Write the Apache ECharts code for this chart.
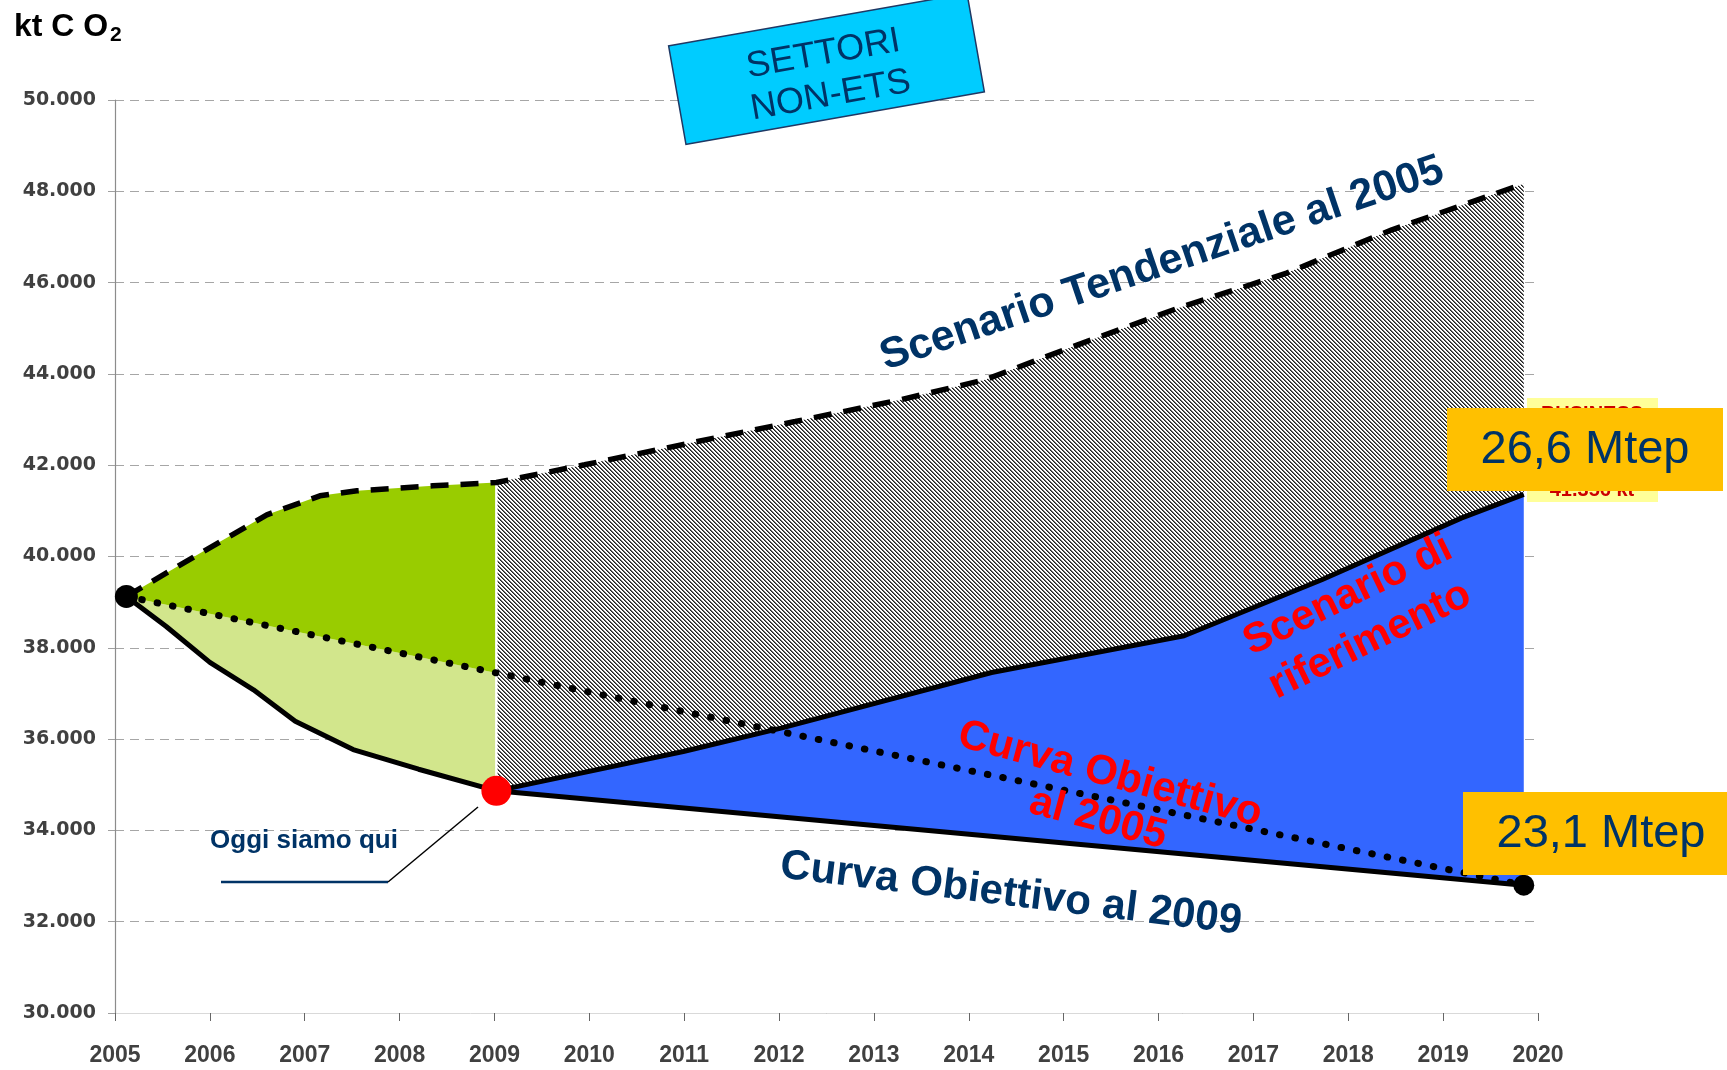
<!DOCTYPE html>
<html><head><meta charset="utf-8">
<script src="https://cdn.jsdelivr.net/npm/echarts@6/dist/echarts.min.js"></script>
<style>html,body{margin:0;padding:0;background:#fff}#c{width:1727px;height:1070px}</style>
</head><body><div id="c"></div>
<script>
// ---- data (kt CO2) ----
const anniTendenziale = [2005.12, 2005.9, 2006.6, 2007.16, 2007.55, 2008.35, 2009.02, 2009.95, 2011.06, 2012.17, 2013.28, 2014.17, 2015.1, 2016.22, 2017.35, 2018.46, 2019.85];
const tendenziale     = [39124, 40074, 40913, 41329, 41439, 41548, 41621, 42009, 42484, 42957, 43433, 43871, 44600, 45450, 46208, 47157, 48164];
const anniBasso = [2005.12, 2005.54, 2006.0, 2006.46, 2006.9, 2007.51, 2008.2, 2009.02];
const basso     = [39124, 38467, 37680, 37080, 36390, 35770, 35340, 34867];
const anniRiferimento = [2009.02, 2010.99, 2012.02, 2014.24, 2016.27, 2017.72, 2019.19, 2019.85];
const riferimento     = [34867, 35728, 36240, 37459, 38263, 39490, 40841, 41360];
const anniObiettivo2005 = [2005.12, 2019.85];
const obiettivo2005     = [39124, 32800];
const anniObiettivo2009 = [2009.02, 2019.85];
const obiettivo2009     = [34867, 32800];
const puntoInizio = [2005.12, 39124];
const puntoOggi   = [2009.02, 34867];
const puntoFine   = [2019.85, 32800];
const anniAsse = [2005, 2020];
const valoriAsse = [30000, 50000];

const zip = (xs, ys) => xs.map((x, i) => [x, ys[i]]);
const lerpAt = (xs, ys, x) => ys[0] + (x - xs[0]) / (xs[1] - xs[0]) * (ys[1] - ys[0]);
const xOggi = puntoOggi[0];
const dotAtOggi = lerpAt(anniObiettivo2005, obiettivo2005, xOggi);

function makeHatch() {
  const n = 4, c = document.createElement('canvas');
  c.width = n; c.height = n;
  const ctx = c.getContext('2d');
  const img = ctx.createImageData(n, n);
  for (let y = 0; y < n; y++) for (let x = 0; x < n; x++) {
    const k = (((x - y) % n) + n) % n;
    const v = k === 0 ? 30 : (k === 1 ? 110 : 255);
    const o = (y * n + x) * 4;
    img.data[o] = v; img.data[o + 1] = v; img.data[o + 2] = v; img.data[o + 3] = 255;
  }
  ctx.putImageData(img, 0, 0);
  return c;
}
const hatch = { image: makeHatch(), repeat: 'repeat' };

function areaSeries(top, bottom, fill, z) {
  return {
    type: 'custom', z: z, silent: true, clip: false,
    data: [top[0]],
    renderItem: function (params, api) {
      const pts = [];
      top.forEach(p => pts.push(api.coord(p)));
      for (let i = bottom.length - 1; i >= 0; i--) pts.push(api.coord(bottom[i]));
      return { type: 'polygon', shape: { points: pts }, style: { fill: fill } };
    }
  };
}

const tendPts = zip(anniTendenziale, tendenziale);
const tendLeft = tendPts.filter(p => p[0] <= xOggi);
const tendRight = tendPts.filter(p => p[0] >= xOggi);
const dottedLeft = [puntoInizio, [xOggi, dotAtOggi]];
const bordoOggi = [puntoOggi, tendLeft[tendLeft.length - 1]];

function lineSeries(data, style, z) {
  return { type: 'line', data: data, symbol: 'none', silent: true, z: z || 5, lineStyle: style, animation: false };
}

const NAVY = '#003366';
const FONT = '"Liberation Sans", Arial, sans-serif';
const C = { align: 'center', verticalAlign: 'middle', textAlign: 'center', textVerticalAlign: 'middle' };
const txt = (o) => Object.assign({}, C, o);

const chart = echarts.init(document.getElementById('c'), null, { renderer: 'canvas' });
chart.setOption({
  animation: false,
  backgroundColor: '#ffffff',
  grid: { left: 115, right: 189, top: 100, bottom: 57 },
  xAxis: {
    type: 'value', min: anniAsse[0], max: anniAsse[1], interval: 1,
    axisLine: { show: true, lineStyle: { color: '#d9d9d9', width: 1 } },
    axisTick: { show: true, length: 8, lineStyle: { color: '#666' } },
    axisLabel: { formatter: v => String(v), fontFamily: FONT, fontWeight: 'bold', fontSize: 23, color: '#404040', margin: 31 },
    splitLine: { show: false }
  },
  yAxis: {
    type: 'value', min: valoriAsse[0], max: valoriAsse[1], interval: 2000,
    axisLine: { show: true, lineStyle: { color: '#8c8c8c', width: 1.2 } },
    axisTick: { show: true, length: 7, lineStyle: { color: '#a0a0a0' } },
    axisLabel: { formatter: v => (v / 1000).toFixed(3), fontFamily: '"DejaVu Sans", sans-serif', fontWeight: 'bold', fontSize: 19, color: '#404040', margin: 19 },
    splitLine: { show: true, lineStyle: { type: [9, 6], color: '#a6a6a6', width: 1 } }
  },
  series: [
    areaSeries(dottedLeft, zip(anniBasso, basso), '#d2e68c', 2),
    areaSeries(tendLeft, dottedLeft, '#99cc00', 2),
    areaSeries(tendRight, zip(anniRiferimento, riferimento), hatch, 2),
    areaSeries(zip(anniRiferimento, riferimento), zip(anniObiettivo2009, obiettivo2009), '#3366ff', 2),
    lineSeries(bordoOggi, { color: '#ffffff', width: 2.5 }, 3),
    lineSeries(tendPts, { color: '#000', width: 5.5, type: [18, 12] }),
    lineSeries(zip(anniBasso, basso), { color: '#000', width: 5 }),
    lineSeries(zip(anniRiferimento, riferimento), { color: '#000', width: 5 }),
    lineSeries(zip(anniObiettivo2009, obiettivo2009), { color: '#000', width: 5 }),
    lineSeries(zip(anniObiettivo2005, obiettivo2005), { color: '#000', width: 7, type: [0.5, 15.2], cap: 'round' }, 6),
    { type: 'scatter', silent: true, z: 10, data: [puntoInizio], symbolSize: 23, itemStyle: { color: '#000', opacity: 1 } },
    { type: 'scatter', silent: true, z: 10, data: [puntoFine], symbolSize: 21, itemStyle: { color: '#000', opacity: 1 } },
    { type: 'scatter', silent: true, z: 10, data: [puntoOggi], symbolSize: 30, itemStyle: { color: '#ff0000', opacity: 1 } }
  ],
  graphic: [
    { type: 'text', z: 100, x: 14, y: 27, style: { text: 'kt C O', font: 'bold 32px ' + FONT, fill: '#000', align: 'left', verticalAlign: 'middle', textAlign: 'left', textVerticalAlign: 'middle' } },
    { type: 'text', z: 100, x: 110, y: 35, style: { text: '2', font: 'bold 21px ' + FONT, fill: '#000', align: 'left', verticalAlign: 'middle', textAlign: 'left', textVerticalAlign: 'middle' } },
    { type: 'group', z: 100, x: 826, y: 69, rotation: 10 * Math.PI / 180, children: [
      { type: 'rect', z: 100, shape: { x: -151, y: -50, width: 303, height: 100 }, style: { fill: '#00ccff', stroke: '#1f3864', lineWidth: 1.5 } },
      { type: 'text', z: 101, x: 0, y: 6, style: txt({ text: 'SETTORI\nNON-ETS', font: '36px ' + FONT, fill: NAVY, lineHeight: 42 }) }
    ]},
    { type: 'text', z: 100, x: 1162, y: 264, rotation: 18.7 * Math.PI / 180, style: txt({ text: 'Scenario Tendenziale al 2005', font: 'bold 43px ' + FONT, fill: NAVY }) },
    { type: 'text', z: 100, x: 1359, y: 618, rotation: 26 * Math.PI / 180, style: txt({ text: 'Scenario di\nriferimento', font: 'bold 42px ' + FONT, fill: '#ff0000', lineHeight: 50 }) },
    { type: 'text', z: 100, x: 1104, y: 797, rotation: -15 * Math.PI / 180, style: txt({ text: 'Curva Obiettivo\nal 2005', font: 'bold 42px ' + FONT, fill: '#ff0000', lineHeight: 46 }) },
    { type: 'text', z: 100, x: 1011, y: 894, rotation: -7 * Math.PI / 180, style: txt({ text: 'Curva Obiettivo al 2009', font: 'bold 42px ' + FONT, fill: NAVY }) },
    { type: 'text', z: 100, x: 304, y: 841, style: txt({ text: 'Oggi siamo qui', font: 'bold 26px ' + FONT, fill: NAVY }) },
    { type: 'line', z: 100, shape: { x1: 221, y1: 882, x2: 388, y2: 882 }, style: { stroke: NAVY, lineWidth: 2.5 } },
    { type: 'line', z: 100, shape: { x1: 388, y1: 882, x2: 478, y2: 807 }, style: { stroke: '#000', lineWidth: 1.5 } },
    { type: 'rect', z: 100, shape: { x: 1527, y: 398, width: 131, height: 104 }, style: { fill: '#ffff99' } },
    { type: 'text', z: 101, x: 1592, y: 414, style: txt({ text: 'BUSINESS', font: 'bold 20px ' + FONT, fill: '#cc0000' }) },
    { type: 'text', z: 101, x: 1592, y: 490, style: txt({ text: '41.356 kt', font: 'bold 20px ' + FONT, fill: '#cc0000' }) },
    { type: 'rect', z: 102, shape: { x: 1447, y: 408, width: 276, height: 83 }, style: { fill: '#ffc000' } },
    { type: 'text', z: 103, x: 1585, y: 450, style: txt({ text: '26,6 Mtep', font: '47px ' + FONT, fill: NAVY }) },
    { type: 'rect', z: 102, shape: { x: 1463, y: 792, width: 264, height: 83 }, style: { fill: '#ffc000' } },
    { type: 'text', z: 103, x: 1601, y: 834, style: txt({ text: '23,1 Mtep', font: '47px ' + FONT, fill: NAVY }) }
  ]
});
</script>
</body></html>
